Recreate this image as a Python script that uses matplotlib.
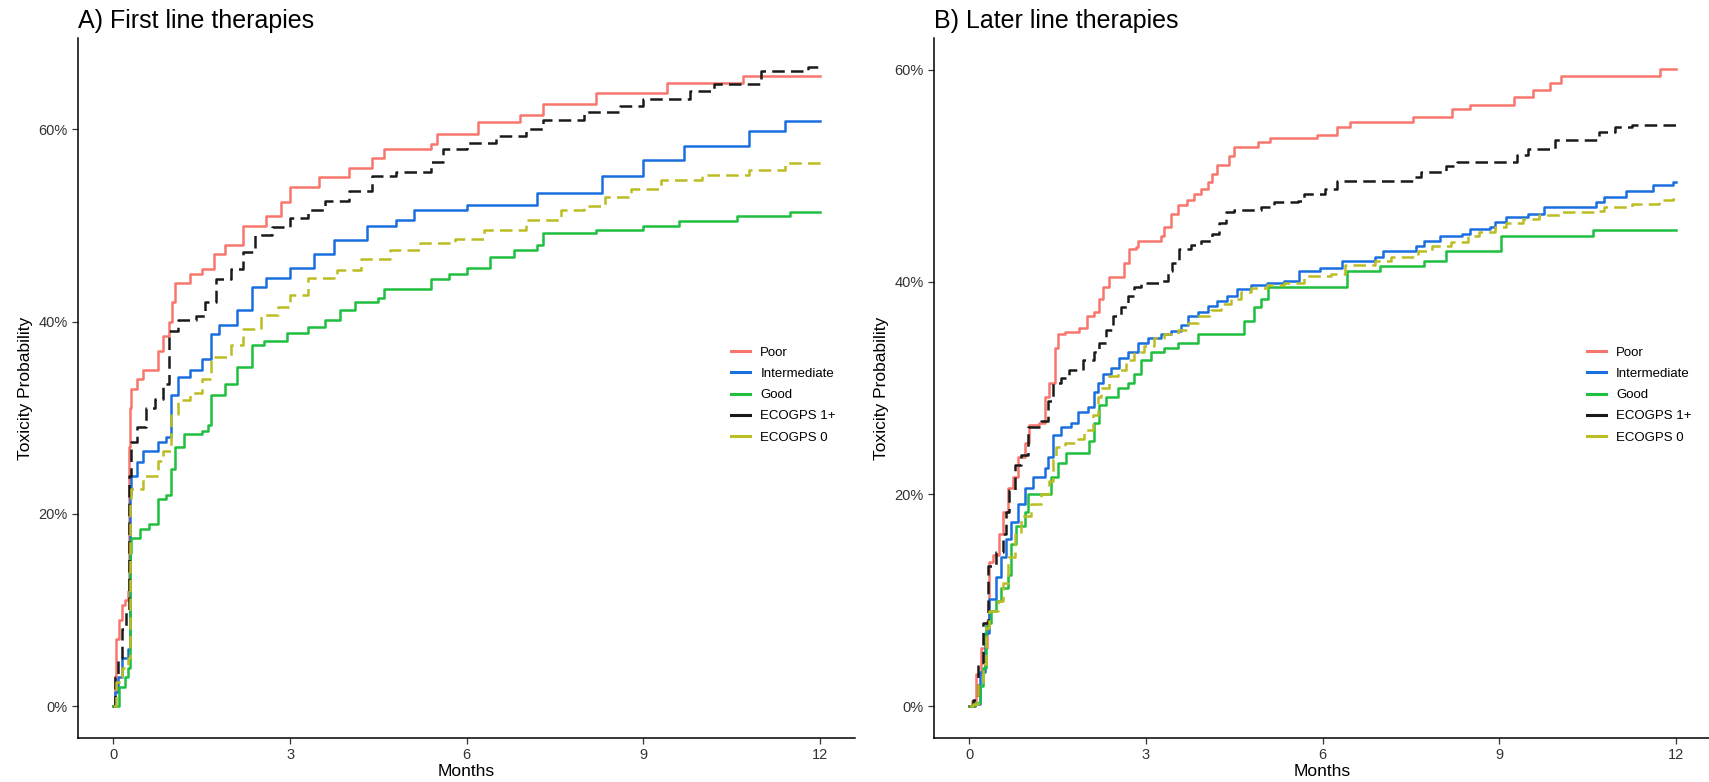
import matplotlib
matplotlib.use("Agg")
import matplotlib.pyplot as plt
from matplotlib.ticker import PercentFormatter

plt.rcParams['font.family'] = ['Liberation Sans', 'DejaVu Sans']

# ---- data (months, cumulative toxicity %) ----
labels = ["Poor", "Intermediate", "Good", "ECOGPS 1+", "ECOGPS 0"]
colors = ["#F8766D", "#1a6fdf", "#1fbf3f", "#1a1a1a", "#bcbd22"]
styles = ["-", "-", "-", "--", "--"]

# A) First line therapies
A_poor_t = [0, 0.02, 0.05, 0.1, 0.15, 0.2, 0.25, 0.27, 0.29, 0.3, 0.4, 0.5, 0.75, 0.85, 0.95,
            1.0, 1.05, 1.3, 1.5, 1.7, 1.9, 2.2, 2.6, 2.85, 3.0, 3.5, 4.0, 4.4, 4.6, 5.4,
            5.5, 6.2, 6.9, 7.3, 8.2, 9.4, 10.7, 12]
A_poor_v = [0, 3, 7, 9, 10.5, 11, 12, 27, 31, 33, 34, 35, 37, 38.5, 40,
            42, 44, 45, 45.5, 47, 48, 50, 51, 52.5, 54, 55, 56, 57, 58, 58.5,
            59.5, 60.8, 61.5, 62.6, 63.8, 64.8, 65.6, 65.6]

A_int_t = [0, 0.03, 0.08, 0.15, 0.25, 0.28, 0.3, 0.4, 0.5, 0.75, 0.9, 0.97, 1.1, 1.3, 1.5,
           1.65, 1.8, 2.1, 2.35, 2.6, 3.0, 3.4, 3.75, 4.3, 4.8, 5.1, 6.0, 7.2, 8.3, 9.0,
           9.7, 10.8, 11.4, 12]
A_int_v = [0, 1.5, 3, 5, 6, 22, 24, 25.4, 26.5, 27.5, 28, 32.4, 34.2, 35, 36.1,
           38.7, 39.7, 41.2, 43.6, 44.5, 45.6, 47, 48.5, 50, 50.6, 51.6, 52.1, 53.4, 55.2, 56.8,
           58.3, 59.8, 60.9, 60.9]

A_good_t = [0, 0.1, 0.2, 0.25, 0.28, 0.3, 0.45, 0.6, 0.75, 0.9, 0.97, 1.05, 1.2, 1.5, 1.6,
            1.65, 1.9, 2.1, 2.35, 2.55, 2.95, 3.3, 3.6, 3.85, 4.1, 4.5, 4.6, 5.4, 5.7, 6.0,
            6.4, 6.8, 7.2, 7.3, 8.2, 9.0, 9.6, 10.6, 11.5, 12]
A_good_v = [0, 2, 3, 4, 15.9, 17.5, 18.4, 19, 21.6, 22, 24.7, 27, 28.3, 28.6, 29.3,
            32.4, 33.5, 35.3, 37.6, 38, 38.8, 39.4, 40.2, 41.2, 42, 42.5, 43.4, 44.4, 45, 45.6,
            46.7, 47.5, 48, 49.2, 49.5, 50, 50.5, 51, 51.4, 51.4]

A_ecog1_t = [0, 0.03, 0.08, 0.15, 0.22, 0.27, 0.3, 0.4, 0.55, 0.7, 0.85, 0.95, 1.1, 1.4, 1.55,
             1.75, 2.0, 2.2, 2.4, 2.7, 3.0, 3.3, 3.6, 4.0, 4.4, 4.8, 5.4, 5.6, 6.0, 6.5,
             7.0, 7.3, 8.0, 8.6, 9.0, 9.8, 10.2, 11.0, 11.8, 12]
A_ecog1_v = [0, 3, 5, 8, 10, 24, 27.5, 29, 31, 32, 33.5, 39, 40.2, 40.6, 42,
             44.4, 45.5, 47.2, 49, 49.8, 50.8, 51.6, 52.6, 53.6, 55.2, 55.6, 56.6, 58, 58.6, 59.3,
             60, 61, 61.8, 62.4, 63.2, 64, 64.7, 66.1, 66.5, 66.5]

A_ecog0_t = [0, 0.05, 0.15, 0.25, 0.28, 0.3, 0.5, 0.75, 0.85, 0.97, 1.1, 1.3, 1.5, 1.65, 2.0,
             2.2, 2.5, 2.8, 3.0, 3.3, 3.8, 4.2, 4.7, 5.2, 5.8, 6.3, 7.0, 7.6, 8.0, 8.35,
             8.8, 9.3, 10.0, 10.8, 11.4, 12]
A_ecog0_v = [0, 2.5, 4, 5, 21.5, 22.6, 24, 25.5, 26.5, 30.4, 31.9, 32.6, 34, 36.3, 37.6,
             39.2, 40.7, 41.5, 42.8, 44.5, 45.4, 46.5, 47.5, 48.2, 48.6, 49.5, 50.6, 51.6, 52, 53,
             53.8, 54.7, 55.3, 55.8, 56.5, 56.5]

# B) Later line therapies
B_poor_t = [0, 0.05, 0.12, 0.2, 0.3, 0.34, 0.4, 0.5, 0.57, 0.65, 0.74, 0.82, 0.94, 1.02, 1.19,
            1.28, 1.36, 1.45, 1.5, 1.62, 1.87, 2.0, 2.12, 2.2, 2.27, 2.38, 2.63, 2.72, 2.83, 2.86,
            3.25, 3.31, 3.42, 3.54, 3.7, 3.82, 3.93, 4.05, 4.13, 4.2, 4.41, 4.5, 4.9, 5.1, 5.9,
            6.24, 6.47, 7.54, 8.2, 8.5, 9.26, 9.58, 9.86, 10.05, 11.74, 12]
B_poor_v = [0, 0.5, 3, 5.5, 8, 13.6, 14.3, 16.2, 18.3, 20.6, 21.6, 23.5, 24.8, 26.5, 26.7,
            29.2, 30.5, 33.8, 35.1, 35.3, 35.7, 36.8, 37.2, 38.4, 39.5, 40.5, 41.8, 43.1, 43.3, 43.9,
            44.3, 45.2, 46.4, 47.3, 47.7, 48.3, 48.8, 49.4, 50.2, 51, 51.9, 52.7, 53.2, 53.6, 53.9,
            54.6, 55.1, 55.6, 56.3, 56.7, 57.4, 58.1, 58.8, 59.4, 60.1, 60.1]

B_int_t = [0, 0.09, 0.18, 0.26, 0.34, 0.46, 0.54, 0.63, 0.71, 0.82, 0.94, 1.08, 1.28, 1.33, 1.42,
           1.56, 1.73, 1.84, 2.01, 2.12, 2.18, 2.27, 2.41, 2.55, 2.69, 2.86, 3.03, 3.25, 3.42, 3.59,
           3.71, 3.88, 4.05, 4.21, 4.38, 4.55, 4.78, 5.06, 5.34, 5.6, 5.96, 6.33, 6.89, 7.03, 7.59,
           7.73, 8.0, 8.37, 8.5, 8.84, 8.93, 9.12, 9.49, 9.77, 10.65, 10.79, 11.16, 11.62, 11.95, 12]
B_int_v = [0, 0.2, 3.2, 6.9, 10.1, 12.2, 14.1, 15.8, 17.4, 19.1, 20.6, 21.6, 22.5, 23.5, 25.6,
           26.3, 26.7, 27.7, 28.2, 29.6, 30.5, 31.3, 31.9, 32.8, 33.4, 34.2, 34.7, 35.1, 35.4, 35.9,
           36.8, 37.2, 37.7, 38.2, 38.7, 39.3, 39.7, 39.9, 40.1, 41, 41.3, 42, 42.4, 42.9, 43.4,
           43.9, 44.3, 44.5, 45, 45.2, 45.7, 46.1, 46.4, 47.1, 47.5, 48, 48.6, 49.1, 49.4, 49.4]

B_good_t = [0, 0.09, 0.18, 0.23, 0.29, 0.37, 0.46, 0.54, 0.66, 0.71, 0.8, 0.94, 1.0, 1.39, 1.5,
            1.64, 2.04, 2.12, 2.21, 2.32, 2.52, 2.69, 2.8, 2.92, 3.08, 3.31, 3.54, 3.88, 4.67, 4.84,
            4.95, 5.08, 6.42, 6.98, 7.73, 8.1, 9.03, 10.6, 12]
B_good_v = [0, 0.3, 1.9, 3.6, 7.8, 9, 9.9, 11.1, 12.4, 15.3, 17, 18.3, 20, 21.6, 22.9,
            23.9, 25, 26.7, 28.4, 29.2, 30, 30.5, 31.3, 32.6, 33.4, 33.8, 34.2, 35.1, 36.3, 37.6,
            38.4, 39.5, 41, 41.5, 42, 42.9, 44.3, 44.9, 44.9]

B_ecog1_t = [0, 0.06, 0.15, 0.23, 0.32, 0.46, 0.57, 0.63, 0.68, 0.77, 0.88, 0.99, 1.22, 1.33, 1.42,
             1.56, 1.7, 1.93, 2.12, 2.2, 2.32, 2.44, 2.58, 2.69, 2.8, 2.92, 3.28, 3.37, 3.45, 3.56,
             3.76, 3.93, 4.13, 4.24, 4.36, 4.5, 4.95, 5.17, 5.59, 5.68, 6.05, 6.24, 7.54, 7.68, 8.1,
             8.28, 9.3, 9.49, 9.95, 10.7, 10.97, 11.25, 12]
B_ecog1_v = [0, 0.6, 4, 7.8, 13.2, 14.5, 16.2, 18.3, 20.4, 22.7, 23.7, 26.3, 26.9, 28.8, 30.5,
             30.9, 31.7, 32.6, 33.4, 34.2, 35.5, 36.8, 37.6, 38.7, 39.5, 39.9, 40.1, 41, 41.8, 43.1,
             43.5, 43.9, 44.5, 45.6, 46.6, 46.8, 47.1, 47.5, 47.6, 48.3, 48.8, 49.5, 49.9, 50.4, 50.9,
             51.3, 52, 52.5, 53.4, 54.1, 54.6, 54.8, 54.8]

B_ecog0_t = [0, 0.06, 0.15, 0.23, 0.29, 0.34, 0.49, 0.57, 0.66, 0.77, 0.88, 1.05, 1.22, 1.36, 1.42,
             1.47, 1.62, 1.79, 1.95, 2.1, 2.18, 2.24, 2.38, 2.52, 2.66, 2.8, 2.97, 3.14, 3.31, 3.54,
             3.71, 3.88, 4.1, 4.27, 4.44, 4.61, 4.78, 5.06, 5.34, 5.68, 6.15, 6.38, 6.89, 7.17, 7.63,
             7.86, 8.19, 8.47, 8.65, 8.93, 9.12, 9.4, 9.68, 10.05, 10.6, 10.79, 11.25, 11.72, 11.95, 12]
B_ecog0_v = [0, 0.2, 2.3, 4, 7.4, 9, 9.9, 11.6, 14.1, 16.2, 17.9, 19.1, 20, 21.2, 23.3,
             24.4, 24.8, 25.2, 26, 27.5, 29.2, 30, 31.1, 31.7, 32.6, 33.4, 34, 34.7, 35.1, 35.5,
             36.1, 36.8, 37.4, 37.9, 38.4, 39.1, 39.4, 39.7, 39.9, 40.6, 40.8, 41.6, 42, 42.4, 42.9,
             43.4, 43.8, 44.3, 44.7, 45.2, 45.6, 45.9, 46.3, 46.6, 46.7, 47.1, 47.4, 47.7, 47.8, 47.8]

panels = [
    ("A) First line therapies",
     [(A_poor_t, A_poor_v), (A_int_t, A_int_v), (A_good_t, A_good_v),
      (A_ecog1_t, A_ecog1_v), (A_ecog0_t, A_ecog0_v)],
     (-3.3, 69.5), [0, 20, 40, 60]),
    ("B) Later line therapies",
     [(B_poor_t, B_poor_v), (B_int_t, B_int_v), (B_good_t, B_good_v),
      (B_ecog1_t, B_ecog1_v), (B_ecog0_t, B_ecog0_v)],
     (-3.0, 63.0), [0, 20, 40, 60]),
]

fig = plt.figure(figsize=(17.09, 7.82), dpi=100)
axes = [fig.add_axes([0.0457, 0.0563, 0.4547, 0.895]),
        fig.add_axes([0.5465, 0.0563, 0.4547, 0.895])]

for ax, (title, series, ylim, yticks) in zip(axes, panels):
    for (t, v), lab, col, ls in zip(series, labels, colors, styles):
        line, = ax.step(t, v, where="post", color=col, lw=1.8, label=lab, linestyle=ls)
        if ls == "--":
            line.set_dashes((5, 2.5))
    ax.set_xlim(-0.6, 12.6)
    ax.set_ylim(*ylim)
    ax.set_xticks([0, 3, 6, 9, 12])
    ax.set_yticks(yticks)
    ax.yaxis.set_major_formatter(PercentFormatter(decimals=0))
    for s in ["top", "right"]:
        ax.spines[s].set_visible(False)
    for s in ["left", "bottom"]:
        ax.spines[s].set_linewidth(1.1)
    ax.tick_params(labelsize=10.5, colors="#333333", length=4, width=0.9)
    ax.set_xlabel("Months", fontsize=12.5, labelpad=1)
    ax.set_ylabel("Toxicity Probability", fontsize=12.5, labelpad=4)
    ax.set_title(title, loc="left", fontsize=18, pad=7)
    leg = ax.legend(loc="center left", bbox_to_anchor=(0.832, 0.49), frameon=False,
                    fontsize=9.5, handlelength=1.4, handletextpad=0.8, labelspacing=0.68,
                    borderpad=0)
    for h in leg.get_lines():
        h.set_linestyle("-")
        h.set_linewidth(2.2)

fig.savefig("out.png", dpi=100)
